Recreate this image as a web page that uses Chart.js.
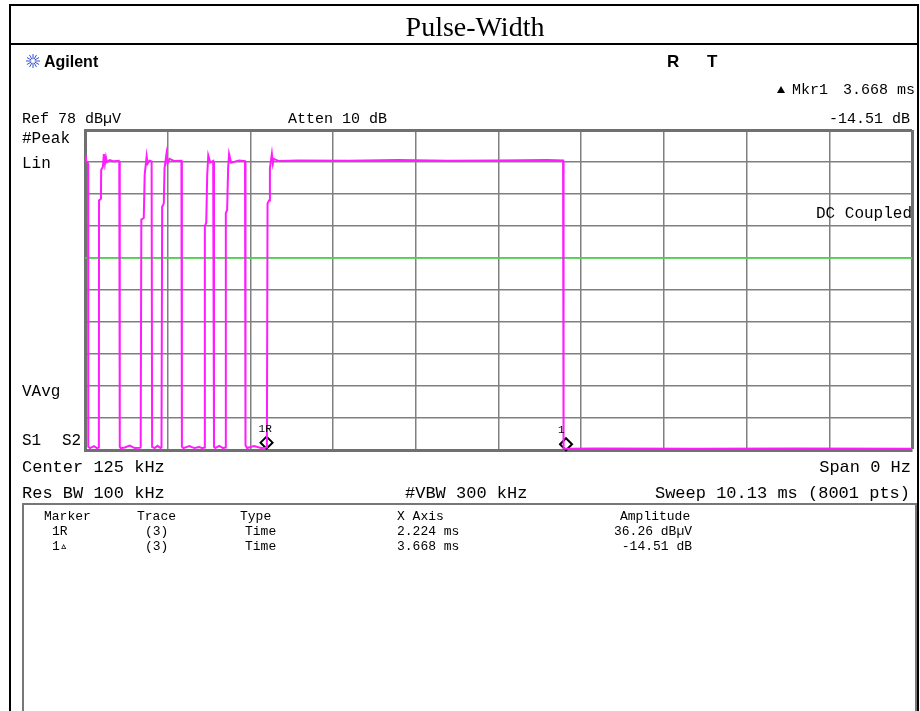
<!DOCTYPE html>
<html lang="en">
<head>
<meta charset="UTF-8">
<title>Pulse-Width</title>
<script src="https://cdn.jsdelivr.net/npm/chart.js"></script>
<style>
  body { margin: 0; background: #fff; }
  #wrap { position: relative; width: 920px; height: 711px; }
</style>
</head>
<body>
<div id="wrap"><canvas id="scope" width="920" height="711"></canvas></div>
<script>
// sweep: 10 divisions, zero span
const sweepMs = 10.13;
const gridDivs = 10;
const displayLine = 60; // green display line, % of ref level

// trace 3, time in ms, linear level in % of ref level
const traceMs = [
  0, 0.012, 0.030, 0.037, 0.040, 0.061, 0.110, 0.146, 0.170,
  0.172, 0.195, 0.198, 0.219, 0.231, 0.244, 0.256, 0.268, 0.304, 0.353, 0.414, 0.420,
  0.426, 0.438, 0.487, 0.548, 0.609, 0.670,
  0.682, 0.690, 0.720, 0.731, 0.755, 0.767, 0.791, 0.816, 0.822,
  0.852, 0.889, 0.925,
  0.937, 0.945, 0.965, 0.974, 0.998, 1.011, 1.035, 1.096, 1.181, 1.187,
  1.205, 1.278, 1.339, 1.400, 1.437,
  1.461, 1.468, 1.485, 1.497, 1.510, 1.534, 1.570, 1.580,
  1.595, 1.644, 1.692,
  1.717, 1.725, 1.741, 1.753, 1.765, 1.790, 1.887, 1.960, 1.966,
  1.985, 2.070, 2.155, 2.204,
  2.228, 2.236, 2.255, 2.265, 2.289, 2.301, 2.313, 2.374, 2.618, 3.226, 3.835,
  4.444, 5.053, 5.661, 5.856, 5.862,
  5.880, 6.270, 7.488, 8.705, 10.13
];
const traceLevel = [
  92.0, 90.3, 90.0, 89.5, 1.0, 0.6, 1.2, 0.6, 0.8,
  78.0, 78.5, 87.5, 88.5, 92.5, 89.5, 91.5, 90.0, 90.6, 90.2, 90.4, 90.0,
  1.0, 0.6, 0.8, 1.4, 0.6, 0.7,
  0.8, 72.0, 72.5, 86.0, 91.8, 89.5, 90.4, 90.2, 1.0,
  0.6, 1.3, 0.6,
  0.8, 76.0, 77.0, 88.0, 92.5, 89.5, 91.0, 90.3, 90.4, 1.0,
  0.6, 1.2, 0.6, 0.9, 0.6,
  0.8, 70.0, 71.0, 86.0, 92.0, 89.8, 90.3, 1.0,
  0.6, 1.3, 0.6,
  0.8, 74.0, 75.0, 88.0, 92.5, 89.8, 90.5, 90.3, 1.5,
  0.6, 1.2, 0.6, 0.7,
  0.8, 77.0, 78.0, 88.0, 92.5, 89.5, 91.0, 90.3, 90.5, 90.4, 90.6,
  90.4, 90.5, 90.6, 90.5, 0.5,
  0.4, 0.5, 0.4, 0.5, 0.4
];

// markers
const markerNames = ['1R', '1'];
const markerMs = [2.224, 5.892];
const markerLevel = [2.3, 1.8];

// marker table
const tableHead = ['Marker', 'Trace', 'Type', 'X Axis', 'Amplitude'];
const tableRows = [
  ['1R', '(3)', 'Time', '2.224 ms', '36.26 dBµV'],
  ['1▵', '(3)', 'Time', '3.668 ms', '-14.51 dB']
];

const MONO = '"Liberation Mono", "DejaVu Sans Mono", monospace';
const SANS = '"Liberation Sans", Arial, sans-serif';

function txt(c, s, x, y, size, align) {
  c.font = size + 'px ' + MONO;
  c.textAlign = align || 'left';
  c.textBaseline = 'alphabetic';
  c.fillStyle = '#000';
  c.fillText(s, x, y);
}

const screenText = {
  id: 'screenText',
  afterDraw(chart) {
    const c = chart.ctx;
    c.save();

    // outer frame and title cell
    c.strokeStyle = '#000';
    c.lineWidth = 2;
    c.strokeRect(10, 5, 908, 720);
    c.beginPath(); c.moveTo(10, 44); c.lineTo(918, 44); c.stroke();
    c.font = '28px "Liberation Serif", "Times New Roman", serif';
    c.textAlign = 'center';
    c.fillStyle = '#000';
    c.fillText('Pulse-Width', 475, 36);

    // agilent logo
    c.strokeStyle = '#3050d0';
    c.lineWidth = 1;
    for (let i = 0; i < 12; i++) {
      const a = i * Math.PI / 6;
      c.beginPath();
      c.moveTo(33 + Math.cos(a) * 2, 61 + Math.sin(a) * 2);
      c.lineTo(33 + Math.cos(a) * 7, 61 + Math.sin(a) * 7);
      c.stroke();
    }
    c.fillStyle = '#000';
    c.textAlign = 'left';
    c.font = 'bold 16px ' + SANS;
    c.fillText('Agilent', 44, 67);
    c.font = 'bold 17px ' + SANS;
    c.fillText('R', 667, 67);
    c.fillText('T', 707, 67);

    // header lines
    c.beginPath(); c.moveTo(777, 93); c.lineTo(781, 86); c.lineTo(785, 93); c.closePath(); c.fill();
    txt(c, 'Mkr1', 792, 94, 15);
    txt(c, '3.668 ms', 915, 94, 15, 'right');
    txt(c, 'Ref 78 dBµV', 22, 123, 15);
    txt(c, 'Atten 10 dB', 288, 123, 15);
    txt(c, '-14.51 dB', 910, 123, 15, 'right');

    // left side labels
    txt(c, '#Peak', 22, 143, 16);
    txt(c, 'Lin', 22, 168, 16);
    txt(c, 'VAvg', 22, 396, 16);
    txt(c, 'S1', 22, 445, 16);
    txt(c, 'S2', 62, 445, 16);
    txt(c, 'DC Coupled', 912, 218, 16, 'right');

    // marker labels
    const xs = chart.scales.x, ys = chart.scales.y;
    markerNames.forEach((m, i) => {
      const px = xs.getPixelForValue(markerMs[i]);
      const py = ys.getPixelForValue(markerLevel[i]);
      txt(c, m, px - 8, py - 11, 11);
    });

    // footer
    txt(c, 'Center 125 kHz', 22, 472, 17);
    txt(c, 'Span 0 Hz', 911, 472, 17, 'right');
    txt(c, 'Res BW 100 kHz', 22, 498, 17);
    txt(c, '#VBW 300 kHz', 405, 498, 17);
    txt(c, 'Sweep 10.13 ms (8001 pts)', 910, 498, 17, 'right');

    // marker table box
    c.strokeStyle = '#777';
    c.lineWidth = 2;
    c.strokeRect(23, 504, 893, 220);
    const colX = [52, 145, 245, 397, 692];
    const headX = [44, 137, 240, 397, 620];
    tableHead.forEach((h, i) => txt(c, h, headX[i], 520, 13));
    tableRows.forEach((r, j) => {
      const y = 535 + j * 15;
      r.forEach((v, i) => txt(c, v, colX[i], y, 13, i === 4 ? 'right' : 'left'));
    });
    c.restore();
  }
};

const lastIdx = (ctx) => ctx.index === gridDivs;
const gridStyle = {
  color: ctx => lastIdx(ctx) ? '#707070' : '#808080',
  lineWidth: ctx => lastIdx(ctx) ? 3 : 1.5,
  drawTicks: false
};

new Chart(document.getElementById('scope'), {
  type: 'scatter',
  data: {
    datasets: [
      {
        label: 'Trace 3',
        data: traceMs.map((t, i) => ({ x: t, y: traceLevel[i] })),
        showLine: true,
        borderColor: '#ff1cff',
        borderWidth: 2,
        pointRadius: 0,
        tension: 0
      },
      {
        label: 'Display line',
        data: [{ x: 0, y: displayLine }, { x: sweepMs, y: displayLine }],
        showLine: true,
        borderColor: '#48e048',
        borderWidth: 1.5,
        pointRadius: 0
      },
      {
        label: 'Markers',
        data: markerMs.map((t, i) => ({ x: t, y: markerLevel[i] })),
        showLine: false,
        clip: false,
        pointStyle: 'rectRot',
        pointRadius: 6,
        borderColor: '#000',
        borderWidth: 2,
        backgroundColor: '#fff'
      }
    ]
  },
  options: {
    responsive: false,
    animation: false,
    layout: { padding: { left: 85, top: 130, right: 3, bottom: 261 } },
    plugins: { legend: { display: false }, tooltip: { enabled: false } },
    scales: {
      x: {
        type: 'linear',
        min: 0,
        max: sweepMs,
        afterBuildTicks: ax => { ax.ticks = Array.from({ length: gridDivs + 1 }, (_, i) => ({ value: i * sweepMs / gridDivs })); },
        ticks: { display: false },
        grid: gridStyle,
        border: { display: true, color: '#707070', width: 3 }
      },
      y: {
        min: 0,
        max: 100,
        afterBuildTicks: ax => { ax.ticks = Array.from({ length: gridDivs + 1 }, (_, i) => ({ value: i * 10 })); },
        ticks: { display: false },
        grid: gridStyle,
        border: { display: true, color: '#707070', width: 3 }
      }
    }
  },
  plugins: [screenText]
});
</script>
</body>
</html>
